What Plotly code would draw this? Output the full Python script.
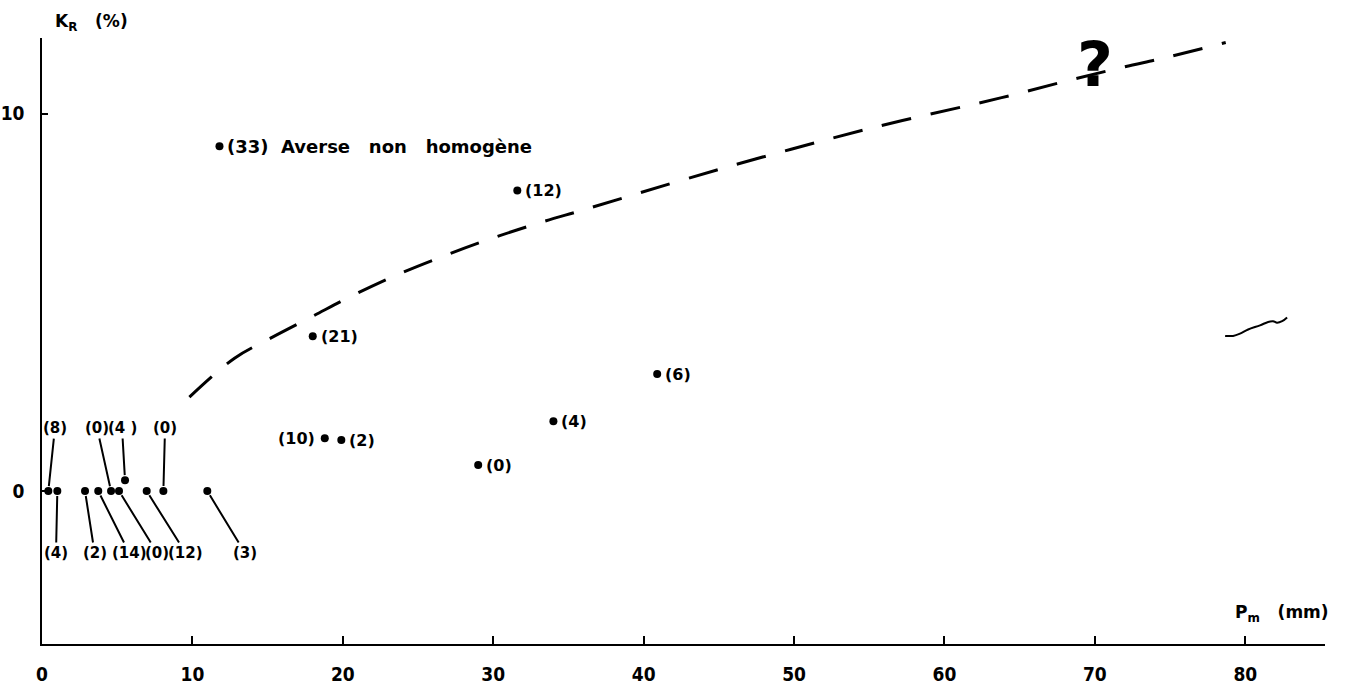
import plotly.graph_objects as go

# ---- data ----
# isolated points (Pm mm, KR %) with their labels placed to the right (or left)
pt_x = [11.8, 31.6, 18.0, 40.9, 34.0, 29.0, 18.8, 19.9]
pt_y = [9.13, 7.96, 4.10, 3.10, 1.85, 0.69, 1.40, 1.35]
pt_label = ["(33)  Averse   non   homogène", "(12)", "(21)", "(6)", "(4)", "(0)", "(10)", "(2)"]
pt_side = ["right", "right", "right", "right", "right", "right", "left", "right"]

# cluster of points near KR = 0, labelled with leader lines
cl_x = [0.42, 1.02, 2.86, 3.74, 4.59, 5.12, 5.52, 6.96, 8.07, 10.99]
cl_y = [0.0, 0.0, 0.0, 0.0, 0.0, 0.0, 0.29, 0.0, 0.0, 0.0]
cl_label = ["(8)", "(4)", "(2)", "(14)", "(0)", "(0)", "(4 )", "(12)", "(0)", "(3)"]
# label anchor positions (layout of the leader-line labels)
cl_lab_x = [0.86, 0.93, 3.5, 5.8, 3.66, 7.66, 5.32, 9.55, 8.18, 13.5]
cl_lab_y = [1.67, -1.64, -1.64, -1.64, 1.67, -1.64, 1.67, -1.64, 1.67, -1.64]

# dashed envelope curve
curve_x = [9.8, 12.8, 15.2, 18.0, 20.4, 23.5, 27.0, 30.1, 33.2, 36.1, 45.0, 55.0, 63.8, 68.5, 71.9, 74.7, 78.7]
curve_y = [2.49, 3.52, 4.05, 4.63, 5.13, 5.71, 6.27, 6.72, 7.12, 7.46, 8.52, 9.6, 10.42, 10.9, 11.23, 11.48, 11.88]

# stray pen stroke at the right
squig_x = [78.66, 79.19, 79.65, 80.19, 80.98, 81.52, 81.85, 82.11, 82.45, 82.78]
squig_y = [4.11, 4.11, 4.17, 4.28, 4.39, 4.48, 4.50, 4.46, 4.50, 4.60]

x_ticks = [0, 10, 20, 30, 40, 50, 60, 70, 80]
x_ticklabels = ["0", "10", "20", "30", "40", "50", "60", "70", "80"]
y_ticks = [0, 10]
y_ticklabels = ["0", "10"]

FONT = "DejaVu Sans, sans-serif"
TICKFONT = "Liberation Sans Narrow, DejaVu Sans Condensed, DejaVu Sans, sans-serif"

fig = go.Figure()

fig.add_trace(go.Scatter(
    x=curve_x, y=curve_y, mode="lines",
    line=dict(color="black", width=3, dash="30px,20px", shape="spline"),
    hoverinfo="skip", showlegend=False))

fig.add_trace(go.Scatter(
    x=squig_x, y=squig_y, mode="lines",
    line=dict(color="black", width=2, shape="spline"),
    hoverinfo="skip", showlegend=False))

fig.add_trace(go.Scatter(
    x=pt_x + cl_x, y=pt_y + cl_y, mode="markers",
    marker=dict(color="black", size=8),
    cliponaxis=False, showlegend=False))

annotations = []
for x, y, t, s in zip(pt_x, pt_y, pt_label, pt_side):
    annotations.append(dict(
        x=x, y=y, xref="x", yref="y", text=t, showarrow=False,
        xanchor="left" if s == "right" else "right",
        xshift=6 if s == "right" else -8, yanchor="middle",
        font=dict(family=FONT, size=18 if len(t) > 6 else 16, color="black", weight="bold")))

for x, y, t, lx, ly in zip(cl_x, cl_y, cl_label, cl_lab_x, cl_lab_y):
    annotations.append(dict(
        x=x, y=y, xref="x", yref="y", ax=lx, ay=ly, axref="x", ayref="y",
        text=t, showarrow=True, arrowhead=0, arrowwidth=2, arrowcolor="black",
        standoff=5, xanchor="center", yanchor="middle",
        font=dict(family=FONT, size=15, color="black", weight="bold")))

annotations.append(dict(
    x=0.0086, y=1.026, xref="paper", yref="paper", text="K<sub>R</sub>   (%)", showarrow=False,
    xanchor="left", yanchor="middle",
    font=dict(family=FONT, size=17, color="black", weight="bold")))
annotations.append(dict(
    x=79.2, y=-3.25, xref="x", yref="y", text="P<sub>m</sub>   (mm)", showarrow=False,
    xanchor="left", yanchor="middle",
    font=dict(family=FONT, size=17, color="black", weight="bold")))
annotations.append(dict(
    x=70, y=11.3, xref="x", yref="y", text="?", showarrow=False,
    xanchor="center", yanchor="middle",
    font=dict(family=FONT, size=62, color="black", weight="bold")))

fig.update_layout(
    width=1372, height=688,
    margin=dict(l=42, r=47, t=38, b=44),
    paper_bgcolor="white", plot_bgcolor="white",
    annotations=annotations,
    showlegend=False,
    xaxis=dict(range=[0, 85.3], tickvals=x_ticks, ticktext=x_ticklabels,
               ticks="inside", ticklen=8, tickwidth=1.5, tickcolor="black",
               showline=True, linecolor="black", linewidth=1.5, automargin=False,
               showgrid=False, zeroline=False, ticklabelstandoff=12,
               tickfont=dict(family=TICKFONT, size=19, color="black", weight="bold")),
    yaxis=dict(range=[-4.05, 12.0], tickvals=y_ticks, ticktext=y_ticklabels,
               ticks="inside", ticklen=6, tickwidth=1.5, tickcolor="black",
               showline=True, linecolor="black", linewidth=1.5, automargin=False,
               showgrid=False, zeroline=False, ticklabelstandoff=12,
               tickfont=dict(family=TICKFONT, size=19, color="black", weight="bold")),
)

# remove the browser's default 8px body margin so the figure fills the window exactly
fig.write_html("out.html", config={"displayModeBar": False},
               post_script="document.body.style.margin='0';")
